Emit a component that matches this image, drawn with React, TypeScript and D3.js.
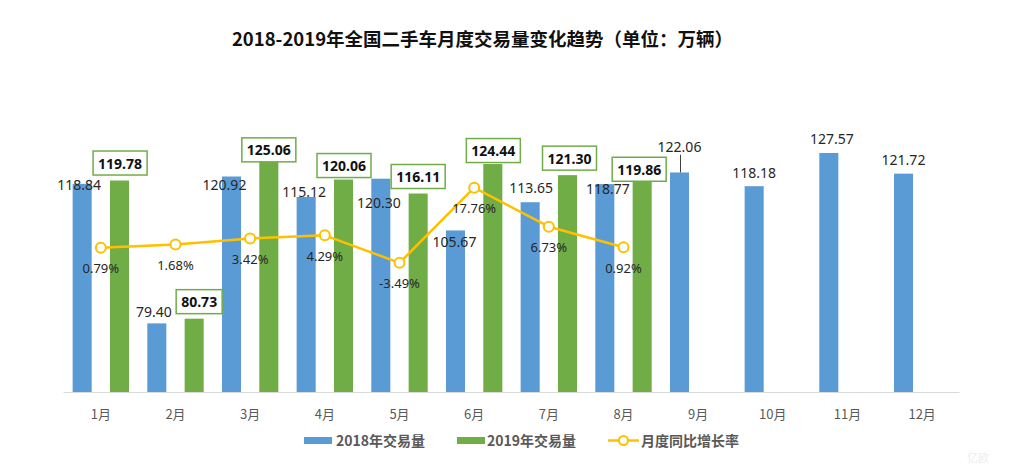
import React from "react";
import * as d3 from "d3";

const months = ["1月", "2月", "3月", "4月", "5月", "6月", "7月", "8月", "9月", "10月", "11月", "12月"];
const sales2018 = [118.84, 79.4, 120.92, 115.12, 120.3, 105.67, 113.65, 118.77, 122.06, 118.18, 127.57, 121.72];
const sales2019 = [119.78, 80.73, 125.06, 120.06, 116.11, 124.44, 121.3, 119.86];
const growthRate = [0.79, 1.68, 3.42, 4.29, -3.49, 17.76, 6.73, 0.92];
const seriesNames = ["2018年交易量", "2019年交易量", "月度同比增长率"];
const title = "2018-2019年全国二手车月度交易量变化趋势（单位：万辆）";

// manual label nudges (dx, dy) as placed in the original chart
const label2018Nudge: [number, number][] = [
  [-3, 15], [-3, 2], [-7, 22], [-2, 8.5], [-2, 38], [-1, 24.6],
  [1, -0.7], [3, 18], [0, -11.7], [0, 0], [3, 0], [0, 0],
];
const label2019Nudge: [number, number][] = [
  [0.6, -1.5], [5, -1], [0, 4], [0.5, 2], [0, -1], [0.5, 2.5], [2, -1], [-3, 5],
];

const W = 1024;
const H = 475;
const BLUE = "#5B9BD5";
const GREEN = "#70AD47";
const GOLD = "#FFC000";
const NUM_FONT = "'Noto Sans', 'Noto Sans CJK SC', sans-serif";
const CJK_FONT = "'Noto Sans CJK SC', 'Noto Sans', sans-serif";

export default function App() {
  const x = d3.scaleBand<string>().domain(months).range([63.5, 959.5]).paddingInner(0).paddingOuter(0);
  const x1 = d3
    .scaleBand<string>()
    .domain(["2018", "2019"])
    .range([0, x.bandwidth()])
    .paddingInner(0.49)
    .paddingOuter(0.245);
  const y = d3.scaleLinear().domain([60, 140]).range([392, 109]);
  const y2 = d3.scaleLinear().domain([-40, 40]).range([392, 109]);
  const cx = (m: string) => (x(m) as number) + x.bandwidth() / 2;
  const bw = x1.bandwidth();

  const line = d3
    .line<number>()
    .x((_, i) => cx(months[i]))
    .y((d) => y2(d));

  return (
    <svg
      width={W}
      height={H}
      style={{ position: "absolute", left: 0, top: 0, background: "#fff", display: "block" }}
    >
      <rect x={0} y={0} width={W} height={H} fill="#fff" />
      <text
        x={482.5}
        y={38}
        textAnchor="middle"
        dominantBaseline="central"
        fontFamily={CJK_FONT}
        fontWeight="bold"
        fontSize={18.5}
        fill="#111"
      >
        {title}
      </text>

      {/* axis baseline */}
      <line x1={63.5} x2={959.5} y1={y(60) + 0.5} y2={y(60) + 0.5} stroke="#D9D9D9" strokeWidth={1} />

      {/* 2018 bars */}
      {sales2018.map((v, i) => {
        const m = months[i];
        const bx = (x(m) as number) + (x1("2018") as number);
        return <rect key={"b18" + i} x={bx} y={y(v)} width={bw} height={y(60) - y(v)} fill={BLUE} />;
      })}
      {/* 2019 bars */}
      {sales2019.map((v, i) => {
        const m = months[i];
        const bx = (x(m) as number) + (x1("2019") as number);
        return <rect key={"b19" + i} x={bx} y={y(v)} width={bw} height={y(60) - y(v)} fill={GREEN} />;
      })}

      {/* 2018 labels */}
      {sales2018.map((v, i) => {
        const m = months[i];
        const bcx = (x(m) as number) + (x1("2018") as number) + bw / 2;
        const [dx, dy] = label2018Nudge[i];
        const lx = bcx + dx;
        const ly = y(v) - 14 + dy;
        return (
          <g key={"l18" + i}>
            {dy < -5 && (
              <line x1={bcx + 1} x2={bcx + 1} y1={ly + 8} y2={y(v)} stroke="#404040" strokeWidth={1} />
            )}
            <text
              x={lx}
              y={ly}
              textAnchor="middle"
              dominantBaseline="central"
              fontFamily={NUM_FONT}
              fontSize={14}
              fill="#262626"
            >
              {v.toFixed(2)}
            </text>
          </g>
        );
      })}

      {/* 2019 boxed labels */}
      {sales2019.map((v, i) => {
        const m = months[i];
        const bcx = (x(m) as number) + (x1("2019") as number) + bw / 2;
        const [dx, dy] = label2019Nudge[i];
        const lx = bcx + dx;
        const ly = y(v) - 16 + dy;
        const txt = v.toFixed(2);
        const boxW = txt.length * 8 + 6;
        const boxH = 24;
        return (
          <g key={"l19" + i}>
            <rect
              x={lx - boxW / 2}
              y={ly - boxH / 2}
              width={boxW}
              height={boxH}
              fill="#fff"
              stroke={GREEN}
              strokeWidth={1.5}
            />
            <text
              x={lx}
              y={ly}
              textAnchor="middle"
              dominantBaseline="central"
              fontFamily={NUM_FONT}
              fontWeight="bold"
              fontSize={14}
              fill="#111"
            >
              {txt}
            </text>
          </g>
        );
      })}

      {/* growth line */}
      <path d={line(growthRate) || ""} fill="none" stroke={GOLD} strokeWidth={2.5} strokeLinejoin="round" />
      {growthRate.map((r, i) => (
        <circle key={"c" + i} cx={cx(months[i])} cy={y2(r)} r={5} fill="#fff" stroke={GOLD} strokeWidth={2} />
      ))}
      {growthRate.map((r, i) => (
        <text
          key={"p" + i}
          x={cx(months[i])}
          y={y2(r) + 20.5}
          textAnchor="middle"
          dominantBaseline="central"
          fontFamily={NUM_FONT}
          fontSize={13}
          fill="#262626"
        >
          {r.toFixed(2) + "%"}
        </text>
      ))}

      {/* x tick labels */}
      {months.map((m) => (
        <text
          key={"t" + m}
          x={cx(m)}
          y={413}
          textAnchor="middle"
          dominantBaseline="central"
          fontFamily={CJK_FONT}
          fontSize={13}
          fill="#595959"
        >
          {m}
        </text>
      ))}

      {/* legend */}
      <g fontFamily={CJK_FONT} fontSize={14} fontWeight="bold" fill="#595959">
        <rect x={304} y={437} width={28} height={7} fill={BLUE} />
        <text x={336} y={440} dominantBaseline="central">
          {seriesNames[0]}
        </text>
        <rect x={457} y={437} width={28} height={7} fill={GREEN} />
        <text x={487} y={440} dominantBaseline="central">
          {seriesNames[1]}
        </text>
        <line x1={608} x2={639} y1={440.5} y2={440.5} stroke={GOLD} strokeWidth={2.5} />
        <circle cx={623.5} cy={440.5} r={4.5} fill="#fff" stroke={GOLD} strokeWidth={2} />
        <text x={641} y={440} dominantBaseline="central">
          {seriesNames[2]}
        </text>
      </g>

      {/* faint watermark */}
      <text x={978} y={462} fontFamily={CJK_FONT} fontSize={11} fill="#EDEDED" textAnchor="middle">
        亿欧
      </text>
    </svg>
  );
}
